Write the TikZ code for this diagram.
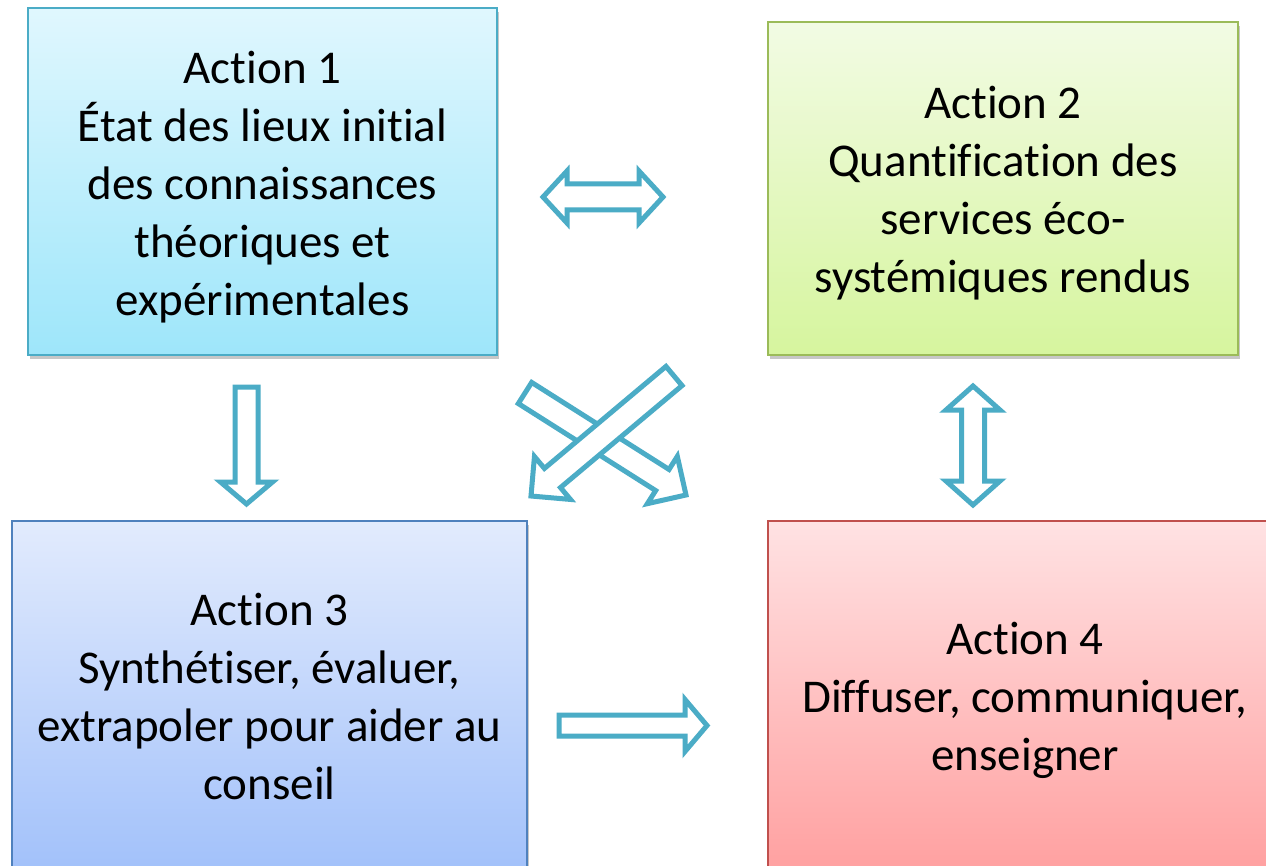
\documentclass[tikz,border=0pt]{standalone}
\usepackage{fontspec}
\setmainfont{Carlito}[Ligatures={NoCommon,NoContextual}]
\usetikzlibrary{calc,shadows}
\definecolor{arrowc}{RGB}{75,172,198}
\definecolor{bordA}{RGB}{75,172,198}
\definecolor{topA}{RGB}{224,247,254}
\definecolor{botA}{RGB}{158,230,250}
\definecolor{bordB}{RGB}{155,187,89}
\definecolor{topB}{RGB}{242,251,228}
\definecolor{botB}{RGB}{214,245,158}
\definecolor{bordC}{RGB}{79,129,189}
\definecolor{topC}{RGB}{226,235,253}
\definecolor{botC}{RGB}{162,193,250}
\definecolor{bordD}{RGB}{192,80,77}
\definecolor{topD}{RGB}{255,226,227}
\definecolor{botD}{RGB}{255,160,160}
\tikzset{
  actbox/.style={rectangle, line width=1.5pt, inner sep=0pt,
    drop shadow={shadow xshift=1.5pt, shadow yshift=-4pt, opacity=.22, fill=black}},
  acttext/.style={align=center, inner sep=0pt, font=\fontsize{47}{58}\selectfont},
  blockarrow/.style={draw=arrowc, line width=5pt, fill=white, line join=miter}
}
\newcommand{\singlearrow}[5]{%
  \coordinate (hh) at ($(#2)!#5!(#1)$);
  \draw[blockarrow] ($(#1)!#3!90:(#2)$) -- ($(hh)!#3!90:(#2)$) -- ($(hh)!#4!90:(#2)$) -- (#2)
    -- ($(hh)!#4!-90:(#2)$) -- ($(hh)!#3!-90:(#2)$) -- ($(#1)!#3!-90:(#2)$) -- cycle;}
\newcommand{\doublearrow}[5]{%
  \coordinate (ha) at ($(#1)!#5!(#2)$);
  \coordinate (hb) at ($(#2)!#5!(#1)$);
  \draw[blockarrow] (#1) -- ($(ha)!#4!90:(#2)$) -- ($(ha)!#3!90:(#2)$) -- ($(hb)!#3!90:(#2)$)
    -- ($(hb)!#4!90:(#2)$) -- (#2) -- ($(hb)!#4!-90:(#2)$) -- ($(hb)!#3!-90:(#2)$)
    -- ($(ha)!#3!-90:(#2)$) -- ($(ha)!#4!-90:(#2)$) -- cycle;}
\begin{document}
\begin{tikzpicture}[x=1pt, y=-1pt]
\useasboundingbox (0,0) rectangle (1266,866);
\clip (0,0) rectangle (1266,866);
\fill[white] (0,0) rectangle (1266,866);
% boxes
\node[actbox, draw=bordA, top color=topA, bottom color=botA,
  minimum width=469pt, minimum height=347pt] (a1) at (262.5,181.5) {};
\node[actbox, draw=bordB, top color=topB, bottom color=botB,
  minimum width=470pt, minimum height=333pt] (a2) at (1003,188.5) {};
\node[actbox, draw=bordC, top color=topC, bottom color=botC,
  minimum width=515pt, minimum height=350pt] (a3) at (269.5,696) {};
\node[actbox, draw=bordD, top color=topD, bottom color=botD,
  minimum width=514pt, minimum height=352pt] (a4) at (1025,697) {};
% texts
\node[acttext] (t1) at ($(a1.center)+(0,6)$)
  {Action 1\\État des lieux initial\\des connaissances\\théoriques et\\expérimentales};
\node[acttext] (t2) at ($(a2.center)+(0,5)$)
  {Action 2\\Quantification des\\services éco-\\systémiques rendus};
\node[acttext] (t3) at ($(a3.center)+(0,0)$)
  {Action 3\\Synthétiser, évaluer,\\extrapoler pour aider au\\conseil};
\node[acttext] (t4) at ($(a4.center)+(0,3)$)
  {Action 4\\Diffuser, communiquer,\\enseigner};
% arrow end points
\coordinate (h1) at (543,197);
\coordinate (h2) at (663,197);
\coordinate (v1) at (973,386);
\coordinate (v2) at (973,505);
\coordinate (d1) at (246.5,387);
\coordinate (d2) at (246.5,504);
\coordinate (r1) at (559,725.5);
\coordinate (r2) at (707,725.5);
\coordinate (xa1) at (525,393);
\coordinate (xa2) at (686,495);
\coordinate (xb1) at (674,376);
\coordinate (xb2) at (531,496);
% arrows
\doublearrow{h1}{h2}{13pt}{26pt}{24pt}
\doublearrow{v1}{v2}{11.5pt}{27pt}{24pt}
\singlearrow{d1}{d2}{11.5pt}{26pt}{22pt}
\singlearrow{r1}{r2}{10.5pt}{26pt}{22pt}
\singlearrow{xa1}{xa2}{12.5pt}{28pt}{28pt}
\singlearrow{xb1}{xb2}{12.5pt}{28pt}{28pt}
\end{tikzpicture}
\end{document}
